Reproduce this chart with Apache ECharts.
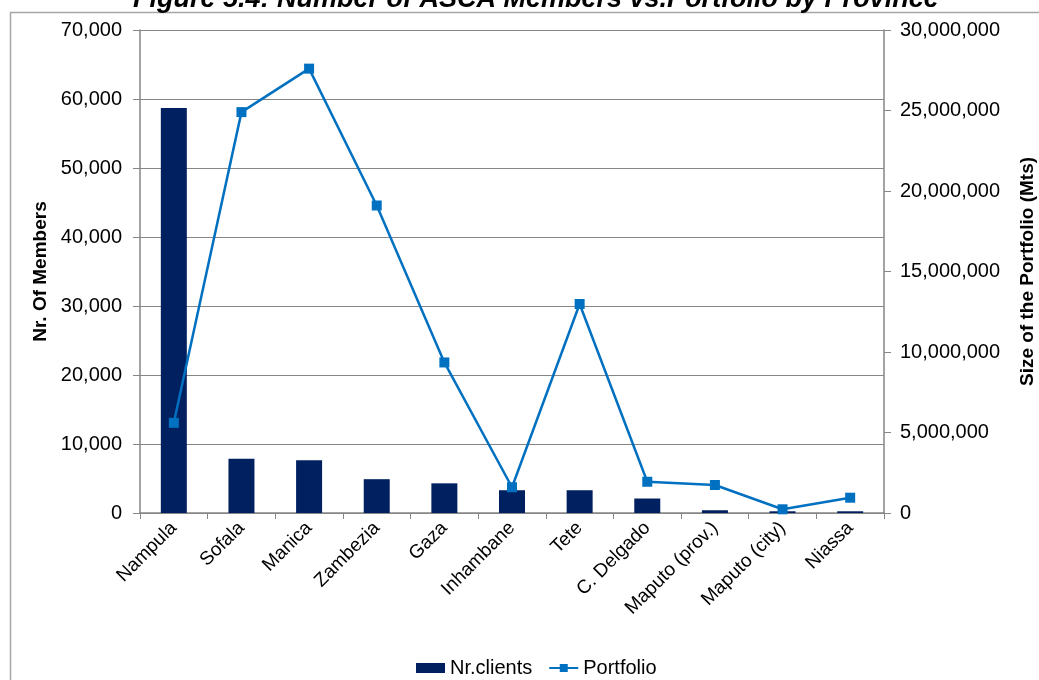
<!DOCTYPE html>
<html>
<head>
<meta charset="utf-8">
<script src="https://cdn.jsdelivr.net/npm/echarts@6/dist/echarts.min.js"></script>
<style>
  html, body { margin: 0; padding: 0; background: #fff; }
  #chart { width: 1039px; height: 680px; }
</style>
</head>
<body>
<div id="chart"></div>
<script>
// Provinces on the category axis
const provinces = ['Nampula', 'Sofala', 'Manica', 'Zambezia', 'Gaza', 'Inhambane',
  'Tete', 'C. Delgado', 'Maputo (prov.)', 'Maputo (city)', 'Niassa'];
// Number of ASCA members per province
const nrClients = [58700, 7850, 7650, 4900, 4300, 3300, 3300, 2100, 400, 250, 250];
// Portfolio size per province (Mts)
const portfolio = [5600000, 24900000, 27600000, 19100000, 9350000, 1600000,
  12980000, 1940000, 1740000, 230000, 950000];

const titleText = 'Figure 5.4: Number of ASCA Members vs.Portfolio by Province';
const fontFamily = '"Liberation Sans", Arial, sans-serif';
const axisGray = '#868686';

const chart = echarts.init(document.getElementById('chart'));

const fmt = v => v.toLocaleString('en-US');

chart.setOption({
  animation: false,
  textStyle: { fontFamily },
  title: {
    text: titleText,
    left: 128,
    top: -19,
    textStyle: { fontSize: 27, fontWeight: 'bold', fontStyle: 'italic', color: '#000', fontFamily }
  },
  graphic: [{
    type: 'polyline',
    shape: { points: [[10.5, 690], [10.5, 12.5], [1045, 12.5]] },
    style: { stroke: '#a6a6a6', lineWidth: 1.5, fill: null },
    silent: true
  }],
  grid: { left: 140, right: 155, top: 30, bottom: 167, containLabel: false, outerBoundsMode: 'none' },
  legend: {
    bottom: -3,
    left: 411,
    itemGap: 16,
    itemWidth: 29,
    itemHeight: 10,
    textStyle: { fontSize: 20, color: '#000', fontFamily },
    data: [
      { name: 'Nr.clients', icon: 'rect' },
      { name: 'Portfolio' }
    ]
  },
  xAxis: {
    type: 'category',
    data: provinces,
    boundaryGap: true,
    axisLine: { lineStyle: { color: axisGray, width: 1.5 } },
    axisTick: { show: true, alignWithLabel: false, length: 6, lineStyle: { color: axisGray } },
    axisLabel: { rotate: 45, fontSize: 19, color: '#000', margin: 12, interval: 0 }
  },
  yAxis: [{
    type: 'value',
    min: 0, max: 70000, interval: 10000,
    name: 'Nr. Of Members',
    nameLocation: 'middle',
    nameGap: 87,
    nameTextStyle: { fontSize: 19, fontWeight: 'bold', color: '#000' },
    axisLine: { show: true, lineStyle: { color: axisGray, width: 1.5 } },
    axisTick: { show: true, length: 7, lineStyle: { color: axisGray } },
    axisLabel: { fontSize: 20, color: '#000', margin: 18, formatter: fmt },
    splitLine: { show: true, lineStyle: { color: axisGray, width: 1 } }
  }, {
    type: 'value',
    min: 0, max: 30000000, interval: 5000000,
    name: 'Size of the Portfolio (Mts)',
    nameLocation: 'middle',
    nameGap: 134,
    nameRotate: 90,
    nameTextStyle: { fontSize: 19, fontWeight: 'bold', color: '#000' },
    axisLine: { show: true, lineStyle: { color: axisGray, width: 1.5 } },
    axisTick: { show: true, length: 7, lineStyle: { color: axisGray } },
    axisLabel: { fontSize: 20, color: '#000', margin: 16, formatter: fmt },
    splitLine: { show: false }
  }],
  series: [{
    name: 'Nr.clients',
    type: 'bar',
    yAxisIndex: 0,
    data: nrClients,
    barWidth: 26,
    itemStyle: { color: '#002060' }
  }, {
    name: 'Portfolio',
    type: 'line',
    yAxisIndex: 1,
    data: portfolio,
    symbol: 'rect',
    symbolSize: 10,
    lineStyle: { color: '#0070C0', width: 2.5 },
    itemStyle: { color: '#0070C0' }
  }]
});
</script>
</body>
</html>
